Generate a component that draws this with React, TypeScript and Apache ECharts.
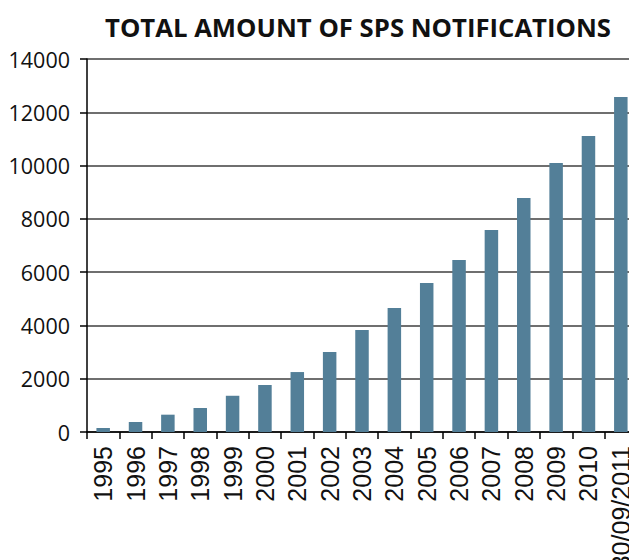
import React, { useEffect, useRef } from "react";
import * as echarts from "echarts";

const categories = ["1995", "1996", "1997", "1998", "1999", "2000", "2001", "2002", "2003", "2004", "2005", "2006", "2007", "2008", "2009", "2010", "30/09/2011"];
const notifications = [150, 375, 650, 900, 1360, 1765, 2250, 3000, 3830, 4655, 5590, 6455, 7580, 8785, 10095, 11110, 12575];
const yTicks = { min: 0, max: 14000, interval: 2000 };
const titleText = "TOTAL AMOUNT OF SPS NOTIFICATIONS";

export default function App() {
  const ref = useRef<HTMLDivElement>(null);
  useEffect(() => {
    document.body.style.margin = "0";
    const chart = echarts.init(ref.current!, null, { renderer: "svg" });
    chart.setOption({
      animation: false,
      title: {
        text: titleText,
        left: 353,
        textAlign: "center",
        top: 9,
        textStyle: { fontFamily: "Open Sans", fontWeight: "bold", fontSize: 25.7, color: "#111" },
      },
      grid: { left: 87, top: 59, bottom: 128, width: 550, containLabel: false, outerBoundsMode: "none" },
      xAxis: {
        type: "category",
        data: categories,
        axisLine: { lineStyle: { color: "#000", width: 1.5 } },
        axisTick: { show: true, alignWithLabel: false, length: 7, lineStyle: { color: "#000", width: 1.5 } },
        axisLabel: { rotate: 90, margin: 14, interval: 0, fontFamily: "Liberation Sans", fontSize: 25, color: "#111" },
      },
      yAxis: {
        type: "value",
        min: yTicks.min,
        max: yTicks.max,
        interval: yTicks.interval,
        axisLine: { show: true, lineStyle: { color: "#000", width: 1.5 } },
        axisTick: { show: true, length: 7, lineStyle: { color: "#000", width: 1.5 } },
        axisLabel: { margin: 17, fontFamily: "Open Sans", fontSize: 21.5, color: "#111", formatter: (v: number) => String(v) },
        splitLine: { lineStyle: { color: "#6f6f6f", width: 2 } },
      },
      series: [
        {
          type: "bar",
          data: notifications,
          barWidth: 13.5,
          itemStyle: { color: "#537f98" },
        },
      ],
    });
    return () => chart.dispose();
  }, []);
  return <div ref={ref} style={{ width: 629, height: 560 }} />;
}
